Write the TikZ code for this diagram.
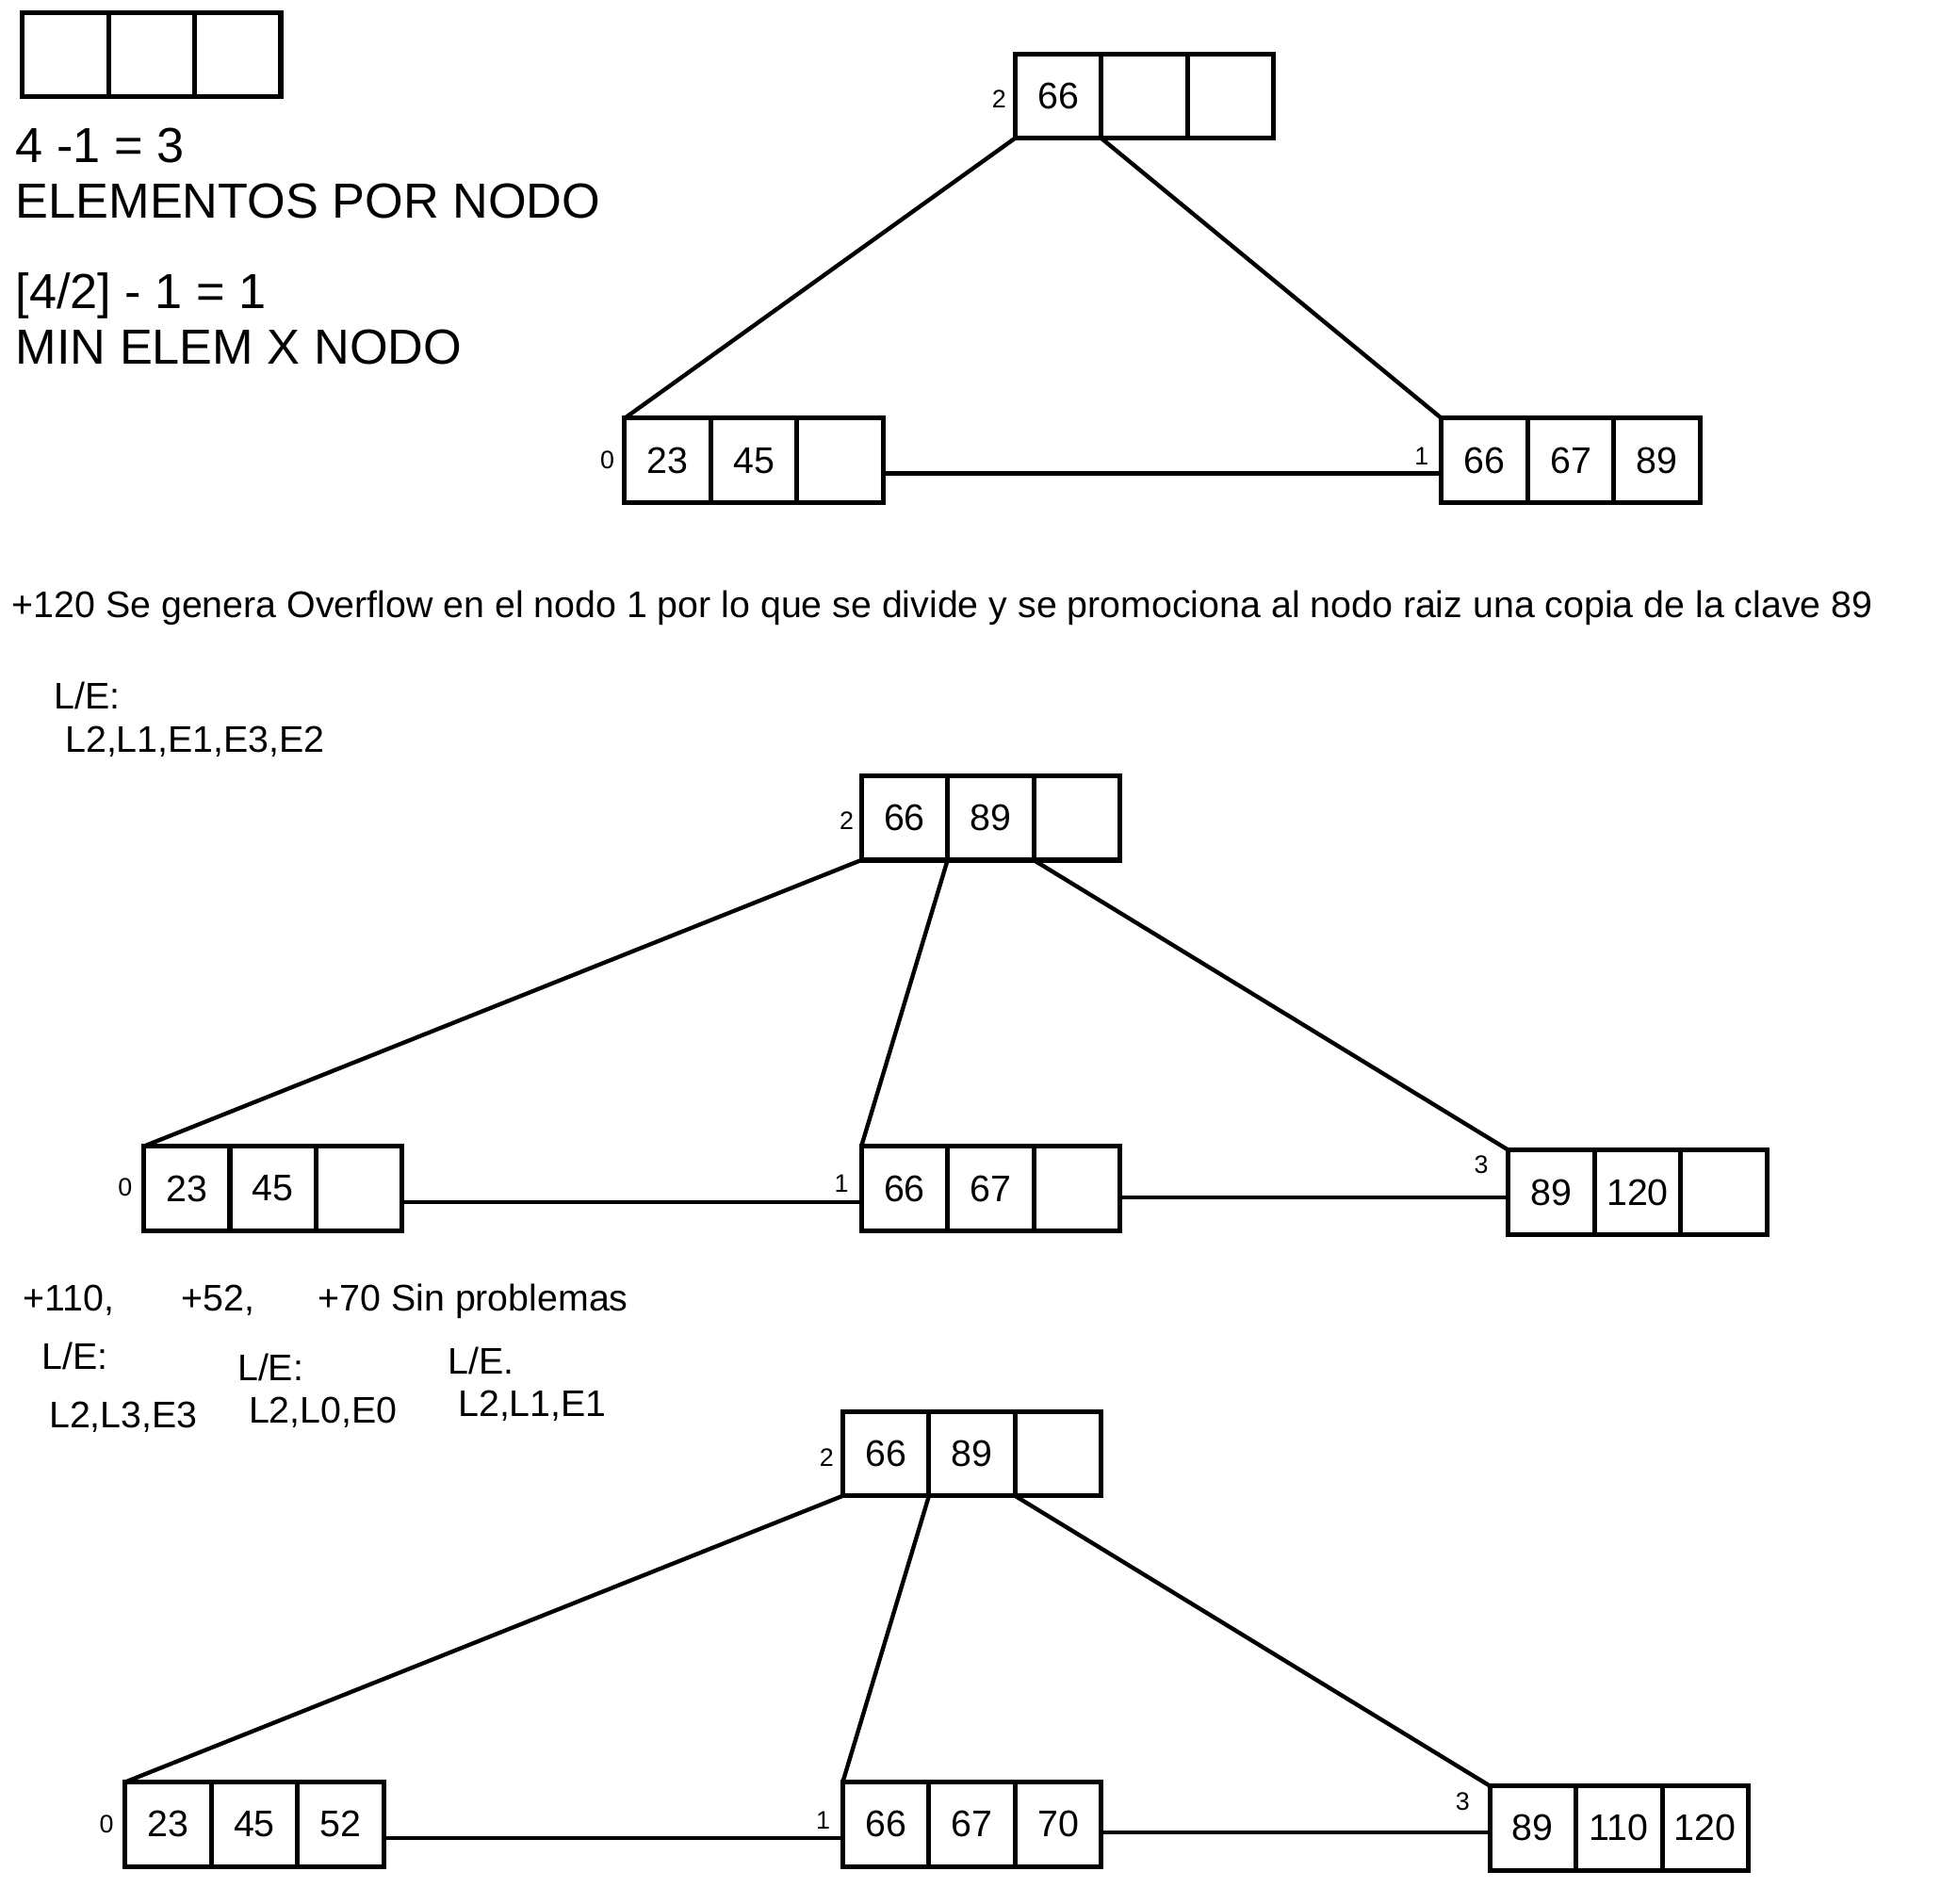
\documentclass[tikz,border=0pt]{standalone}
\usepackage{fontspec}
\setmainfont{Liberation Sans}
\usetikzlibrary{positioning}

\begin{document}
\begin{tikzpicture}[x=0.01cm, y=-0.01cm,
	cell/.style={draw, line width=1.1pt, minimum width=0.695cm, minimum height=0.68cm, inner sep=0pt, outer sep=0pt, font=\fontsize{8.5}{10}\selectfont},
	link/.style={line width=0.95pt},
	idx/.style={inner sep=0pt, font=\fontsize{5.8}{7}\selectfont},
	big/.style={anchor=base west, inner sep=0pt, font=\fontsize{11.3}{13}\selectfont},
	txt/.style={anchor=base west, inner sep=0pt, font=\fontsize{8.5}{10}\selectfont}]
	\useasboundingbox (0,0) rectangle (1566,1536);

				% empty node and the notes
				\node[cell] (Ma)at(52.7, 44) {};
				\node[cell, right=0pt of Ma] (Mb) {};
				\node[cell, right=0pt of Mb] (Mc) {};
				\node[big] (f1)at(12, 131) {4 -1 = 3};
				\node[big] (f2)at(12, 176) {ELEMENTOS POR NODO};
				\node[big] (f3)at(12, 249) {[4/2] - 1 = 1};
				\node[big] (f4)at(12, 294) {MIN ELEM X NODO};

				% first tree
				\node[cell] (R1a)at(853.7, 77.5) {66};
				\node[cell, right=0pt of R1a] (R1b) {};
				\node[cell, right=0pt of R1b] (R1c) {};
				\node[cell] (A1a)at(538.7, 371.5) {23};
				\node[cell, right=0pt of A1a] (A1b) {45};
				\node[cell, right=0pt of A1b] (A1c) {};
				\node[cell] (B1a)at(1197.7, 371.5) {66};
				\node[cell, right=0pt of B1a] (B1b) {67};
				\node[cell, right=0pt of B1b] (B1c) {89};
				\node[idx] (i12)at(806, 80) {2};
				\node[idx] (i10)at(490, 371) {0};
				\node[idx] (i11)at(1147, 368) {1};
				\draw[link] (R1a.south west) -- (A1a.north west);
				\draw[link] (R1a.south east) -- (B1a.north west);
				\draw[link] ([yshift=-0.105cm]A1c.east) -- ([yshift=-0.105cm]B1a.west);

				\node[txt] (s1)at(9, 498) {+120 Se genera Overflow en el nodo 1 por lo que se divide y se promociona al nodo raiz una copia de la clave 89};
				\node[txt] (le1)at(43, 572) {L/E:};
				\node[txt] (le1b)at(52, 607) {L2,L1,E1,E3,E2};

				% second tree
				\node[cell] (R2a)at(729.7, 660) {66};
				\node[cell, right=0pt of R2a] (R2b) {89};
				\node[cell, right=0pt of R2b] (R2c) {};
				\node[cell] (A2a)at(150.7, 959) {23};
				\node[cell, right=0pt of A2a] (A2b) {45};
				\node[cell, right=0pt of A2b] (A2c) {};
				\node[cell] (B2a)at(729.7, 959) {66};
				\node[cell, right=0pt of B2a] (B2b) {67};
				\node[cell, right=0pt of B2b] (B2c) {};
				\node[cell] (C2a)at(1251.7, 962) {89};
				\node[cell, right=0pt of C2a] (C2b) {120};
				\node[cell, right=0pt of C2b] (C2c) {};
				\node[idx] (i22)at(683, 662) {2};
				\node[idx] (i20)at(101, 958) {0};
				\node[idx] (i21)at(679, 955) {1};
				\node[idx] (i23)at(1195, 940) {3};
				\draw[link] (R2a.south west) -- (A2a.north west);
				\draw[link] (R2a.south east) -- (B2a.north west);
				\draw[link] (R2c.south west) -- (C2a.north west);
				\draw[link] ([yshift=-0.11cm]A2c.east) -- ([yshift=-0.11cm]B2a.west);
				\draw[link] ([yshift=-0.07cm]B2c.east) -- ([yshift=-0.07cm]B2c.east -| C2a.west);

				\node[txt] (s2)at(18, 1058) {+110,};
				\node[txt] (s3)at(146, 1058) {+52,};
				\node[txt] (s4)at(256, 1058) {+70 Sin problemas};
				\node[txt] (le2)at(33, 1105) {L/E:};
				\node[txt] (le2b)at(39, 1152) {L2,L3,E3};
				\node[txt] (le3)at(191, 1114) {L/E:};
				\node[txt] (le3b)at(200, 1148) {L2,L0,E0};
				\node[txt] (le4)at(361, 1109) {L/E.};
				\node[txt] (le4b)at(369, 1143) {L2,L1,E1};

				% third tree
				\node[cell] (R3a)at(714.7, 1173) {66};
				\node[cell, right=0pt of R3a] (R3b) {89};
				\node[cell, right=0pt of R3b] (R3c) {};
				\node[cell] (A3a)at(135.7, 1472) {23};
				\node[cell, right=0pt of A3a] (A3b) {45};
				\node[cell, right=0pt of A3b] (A3c) {52};
				\node[cell] (B3a)at(714.7, 1472) {66};
				\node[cell, right=0pt of B3a] (B3b) {67};
				\node[cell, right=0pt of B3b] (B3c) {70};
				\node[cell] (C3a)at(1236.7, 1475) {89};
				\node[cell, right=0pt of C3a] (C3b) {110};
				\node[cell, right=0pt of C3b] (C3c) {120};
				\node[idx] (i32)at(667, 1176) {2};
				\node[idx] (i30)at(86, 1472) {0};
				\node[idx] (i31)at(664, 1469) {1};
				\node[idx] (i33)at(1180, 1454) {3};
				\draw[link] (R3a.south west) -- (A3a.north west);
				\draw[link] (R3a.south east) -- (B3a.north west);
				\draw[link] (R3c.south west) -- (C3a.north west);
				\draw[link] ([yshift=-0.11cm]A3c.east) -- ([yshift=-0.11cm]B3a.west);
				\draw[link] ([yshift=-0.065cm]B3c.east) -- ([yshift=-0.065cm]B3c.east -| C3a.west);
\end{tikzpicture}
\end{document}
